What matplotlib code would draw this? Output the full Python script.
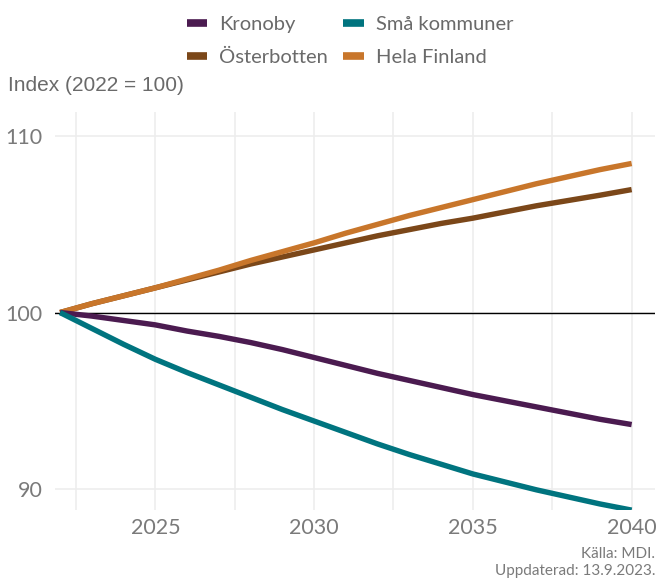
import matplotlib
matplotlib.use("Agg")
import matplotlib.pyplot as plt
from matplotlib.ticker import MultipleLocator

# data (index, 2022 = 100)
years = list(range(2022, 2041))
kronoby = [100, 99.8, 99.55, 99.3, 98.95, 98.65, 98.3, 97.9, 97.45, 97.0,
           96.55, 96.15, 95.75, 95.35, 95.0, 94.65, 94.3, 93.95, 93.65]
sma_kommuner = [100, 99.1, 98.2, 97.35, 96.6, 95.9, 95.2, 94.5, 93.85, 93.2,
                92.55, 91.95, 91.4, 90.85, 90.4, 89.95, 89.55, 89.15, 88.8]
osterbotten = [100, 100.5, 100.95, 101.4, 101.85, 102.3, 102.75, 103.15, 103.55, 103.95,
               104.35, 104.7, 105.05, 105.35, 105.7, 106.05, 106.35, 106.65, 106.97]
hela_finland = [100, 100.5, 100.95, 101.4, 101.9, 102.4, 102.95, 103.45, 103.95, 104.5,
                105.0, 105.5, 105.95, 106.4, 106.85, 107.3, 107.7, 108.1, 108.45]

x_ticks = [2025, 2030, 2035, 2040]
y_ticks = [90, 100, 110]

tick_font = "Lato"
grid_col = "#ededed"
text_col = "#7a7a7a"

fig = plt.figure(figsize=(6.57, 5.81), dpi=100)
ax = fig.add_axes([0.0837, 0.122, 0.913, 0.685])

# order gives column 1: Kronoby, Österbotten / column 2: Små kommuner, Hela Finland
series = [
    ("Kronoby", kronoby, "#4b1b50"),
    ("Österbotten", osterbotten, "#7b4719"),
    ("Små kommuner", sma_kommuner, "#00747f"),
    ("Hela Finland", hela_finland, "#c8762b"),
]
draw_order = [1, 3, 0, 2]
lines = {}
for i in draw_order:
    name, vals, col = series[i]
    ln, = ax.plot(years, vals, color=col, lw=3.9, solid_capstyle="butt", zorder=3)
    lines[name] = ln

ax.axhline(100, color="black", lw=1.0, zorder=2)

ax.set_xlim(2021.84, 2040.73)
ax.set_ylim(88.8, 111.36)
ax.set_xticks(x_ticks)
ax.set_yticks(y_ticks)
ax.xaxis.set_minor_locator(MultipleLocator(2.5))
ax.grid(True, which="major", color=grid_col, lw=1.2, zorder=0)
ax.grid(True, which="minor", axis="x", color=grid_col, lw=1.2, zorder=0)
ax.tick_params(which="both", length=0)
ax.tick_params(axis="x", pad=6)
ax.tick_params(axis="y", pad=9)
for lbl in ax.get_xticklabels() + ax.get_yticklabels():
    lbl.set_fontfamily(tick_font)
    lbl.set_fontsize(15.5)
    lbl.set_color(text_col)
for s in ax.spines.values():
    s.set_visible(False)

handles = [lines[n] for n, _, _ in series]
leg = fig.legend(handles, [n for n, _, _ in series], ncol=2, loc="upper center",
                 bbox_to_anchor=(0.533, 1.004), frameon=False, handlelength=1.0,
                 handletextpad=0.6, columnspacing=0.75, labelspacing=0.78,
                 prop={"family": tick_font, "size": 14.5})
for t in leg.get_texts():
    t.set_color("#6a6a6a")
for h in leg.legend_handles:
    h.set_linewidth(5.5)

fig.text(0.012, 0.853, "Index (2022 = 100)", family="Liberation Sans", fontsize=15,
         color="#6a6a6a", ha="left", va="center")

fig.text(0.997, 0.032, "Källa: MDI.\nUppdaterad: 13.9.2023.", family=tick_font,
         fontsize=11, color=text_col, ha="right", va="center",
         linespacing=1.2)

fig.savefig("out.png", dpi=100)
